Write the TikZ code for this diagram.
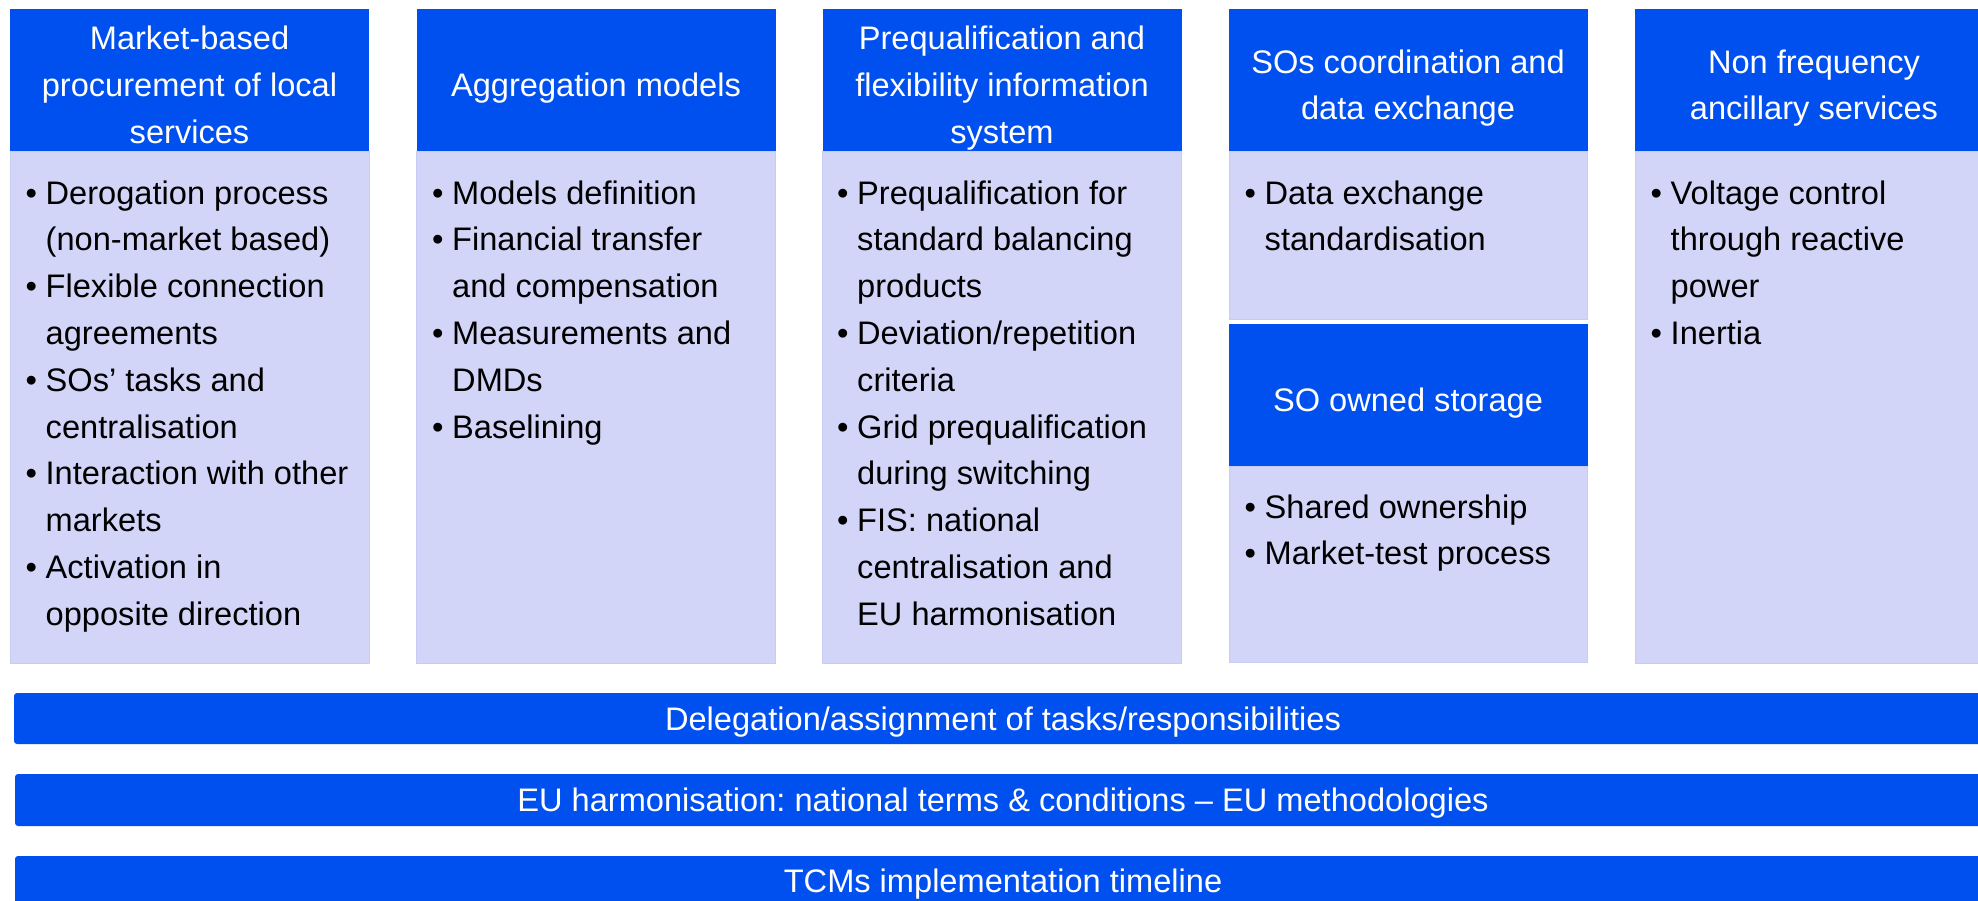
\documentclass[tikz,border=0pt]{standalone}
\usepackage{fontspec}
\setmainfont{Liberation Sans}
\frenchspacing
\definecolor{hblue}{RGB}{0,80,239}
\definecolor{lav}{RGB}{210,213,248}
\definecolor{lavedge}{RGB}{198,204,244}
\tikzset{
  hdr/.style={fill=hblue},
  bodybox/.style={fill=lav, draw=lavedge, line width=1pt},
  bandbox/.style={fill=hblue, rounded corners=3pt},
  htext/.style={text=white, inner sep=0pt, anchor=base, font=\fontsize{32.6}{46.8}\selectfont},
  btext/.style={inner sep=0pt, anchor=base west, font=\fontsize{32.6}{46.8}\selectfont},
}
\newenvironment{blist}{\begin{tabular}[t]{@{}l@{\hspace{8.6pt}}l@{}}}{\end{tabular}}
\newenvironment{hlines}{\begin{tabular}[t]{@{}c@{}}}{\end{tabular}}
\begin{document}
\begin{tikzpicture}[x=1pt,y=-1pt]
\useasboundingbox (0,0) rectangle (1978,900);
% column 1
\path[bodybox] (10,151) rectangle (369,663);
\path[hdr] (10,9) rectangle (369,151);
\node[htext] (h1) at (189.5,49.5) {\begin{hlines}Market-based\\procurement of local\\services\end{hlines}};
\node[btext] (b1) at (25.5,204) {\begin{blist}
• & Derogation process\\
  & (non-market based)\\
• & Flexible connection\\
  & agreements\\
• & SOs’ tasks and\\
  & centralisation\\
• & Interaction with other\\
  & markets\\
• & Activation in\\
  & opposite direction
\end{blist}};
% column 2
\path[bodybox] (416.5,151) rectangle (775.5,663);
\path[hdr] (416.5,9) rectangle (775.5,151);
\node[htext] (h2) at (596,96.5) {Aggregation models};
\node[btext] (b2) at (432,204) {\begin{blist}
• & Models definition\\
• & Financial transfer\\
  & and compensation\\
• & Measurements and\\
  & DMDs\\
• & Baselining
\end{blist}};
% column 3
\path[bodybox] (822.7,151) rectangle (1181.5,663);
\path[hdr] (822.7,9) rectangle (1181.5,151);
\node[htext] (h3) at (1002,49.5) {\begin{hlines}Prequalification and\\flexibility information\\system\end{hlines}};
\node[btext] (b3) at (837,204) {\begin{blist}
• & Prequalification for\\
  & standard balancing\\
  & products\\
• & Deviation/repetition\\
  & criteria\\
• & Grid prequalification\\
  & during switching\\
• & FIS: national\\
  & centralisation and\\
  & EU harmonisation
\end{blist}};
% column 4
\path[bodybox] (1229,151) rectangle (1587.5,319);
\path[hdr] (1229,9) rectangle (1587.5,151);
\node[htext] (h4) at (1408,73) {\begin{hlines}SOs coordination and\\data exchange\end{hlines}};
\node[btext] (b4) at (1244.5,204) {\begin{blist}
• & Data exchange\\
  & standardisation
\end{blist}};
\path[bodybox] (1229,466) rectangle (1587.5,662);
\path[hdr] (1229,324) rectangle (1587.5,466);
\node[htext] (h4b) at (1408,411) {SO owned storage};
\node[btext] (b4b) at (1244.5,518) {\begin{blist}
• & Shared ownership\\
• & Market-test process
\end{blist}};
% column 5
\path[bodybox] (1635,151) rectangle (1995,663);
\path[hdr] (1635,9) rectangle (1995,151);
\node[htext] (h5) at (1814,73) {\begin{hlines}Non frequency\\ancillary services\end{hlines}};
\node[btext] (b5) at (1650.5,204) {\begin{blist}
• & Voltage control\\
  & through reactive\\
  & power\\
• & Inertia
\end{blist}};
% bands
\path[bandbox] (14,693) rectangle (1995,744);
\node[htext] (r1) at (1003,730) {Delegation/assignment of tasks/responsibilities};
\path[bandbox] (15,774) rectangle (1995,826);
\node[htext] (r2) at (1003,811.5) {EU harmonisation: national terms \& conditions – EU methodologies};
\path[bandbox] (15,856) rectangle (1995,907);
\node[htext] (r3) at (1003,892.5) {TCMs implementation timeline};
\end{tikzpicture}
\end{document}
